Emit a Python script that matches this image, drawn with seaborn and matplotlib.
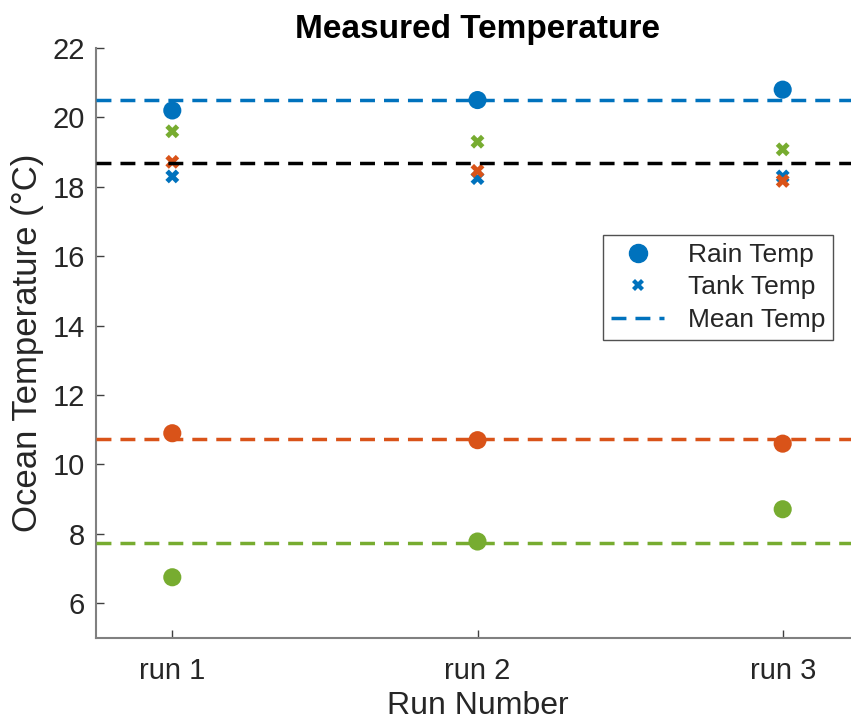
import matplotlib
matplotlib.use("Agg")
import matplotlib.pyplot as plt
from matplotlib.lines import Line2D
import numpy as np
import pandas as pd
import seaborn as sns

# Measurements per run for three sites
runs = [1, 2, 3]
run_labels = ["run 1", "run 2", "run 3"]
sites = ["Site A", "Site B", "Site C"]
rain_a = [20.2, 20.5, 20.8]
rain_b = [10.9, 10.7, 10.6]
rain_c = [6.75, 7.78, 8.71]
tank_a = [18.3, 18.25, 18.3]
tank_b = [18.72, 18.46, 18.17]
tank_c = [19.6, 19.3, 19.08]
site_colors = ["#0072BD", "#D95319", "#77AC30"]

rain = pd.DataFrame({
    "run": runs * 3,
    "temp": rain_a + rain_b + rain_c,
    "site": [s for s in sites for _ in runs],
})
tank = pd.DataFrame({
    "run": runs * 3,
    "temp": tank_a + tank_b + tank_c,
    "site": [s for s in sites for _ in runs],
})

sns.set_theme(style="white")
plt.rcParams["font.family"] = ["Liberation Sans", "DejaVu Sans"]

fig = plt.figure(figsize=(8.51, 7.27), dpi=100)
ax = fig.add_axes([96 / 851, 1 - 638 / 727, (859 - 96) / 851, (638 - 48) / 727])

palette = dict(zip(sites, site_colors))
sns.scatterplot(data=rain, x="run", y="temp", hue="site", palette=palette,
                marker="o", s=170, linewidth=0, legend=False, ax=ax, zorder=2)
sns.scatterplot(data=tank, x="run", y="temp", hue="site", palette=palette,
                marker="X", s=100, linewidth=0, legend=False, ax=ax, zorder=2)

dash = (4.3, 2.6)
for series, c in zip([rain_a, rain_b, rain_c], site_colors):
    ax.axhline(np.mean(series), color=c, lw=2.5, dashes=dash, zorder=3)
ax.axhline(np.mean(tank_a + tank_b + tank_c), color="black", lw=2.5,
           dashes=dash, zorder=3)

ax.set_xlim(0.75, 3.25)
ax.set_ylim(5, 22)
ax.set_xticks(runs)
ax.set_xticklabels(run_labels)
ax.set_yticks(np.arange(6, 23, 2))
ax.tick_params(axis="both", which="major", direction="in", length=6, width=1,
               color="#404040", labelcolor="#262626", labelsize=21,
               bottom=True, left=True)
ax.tick_params(axis="y", pad=8)
ax.tick_params(axis="x", pad=14)
for side in ["top", "right"]:
    ax.spines[side].set_visible(False)
for side in ["left", "bottom"]:
    ax.spines[side].set_color("#808080")
    ax.spines[side].set_linewidth(1.5)

ax.set_xlabel("Run Number", fontsize=23, color="#262626", labelpad=4)
ax.set_ylabel("Ocean Temperature (°C)", fontsize=25, color="#262626", labelpad=6)
ax.set_title("Measured Temperature", fontsize=24, fontweight="bold",
             color="black", pad=7)

handles = [
    Line2D([], [], color=site_colors[0], marker="o", ls="none", markersize=13),
    Line2D([], [], color=site_colors[0], marker="X", ls="none", markersize=9,
           markeredgewidth=0),
    Line2D([], [], color=site_colors[0], lw=2.5, dashes=dash),
]
leg = ax.legend(handles, ["Rain Temp", "Tank Temp", "Mean Temp"],
                loc="upper right", bbox_to_anchor=(833 / 851, 1 - 235 / 727),
                bbox_transform=fig.transFigure, borderaxespad=0,
                fontsize=19, frameon=True, fancybox=False, handlelength=2.0,
                labelspacing=0.32, borderpad=0.3, handletextpad=0.9)
leg.get_frame().set_edgecolor("#262626")
leg.get_frame().set_linewidth(1.0)

fig.savefig("out.png", dpi=100)
